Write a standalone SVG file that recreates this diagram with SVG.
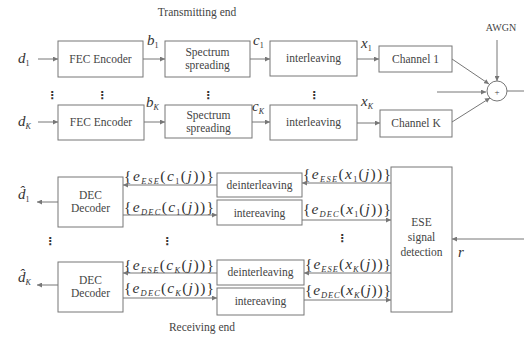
<svg xmlns="http://www.w3.org/2000/svg" width="524" height="338" viewBox="0 0 524 338">
<style>
.box{fill:#fff;stroke:#777;stroke-width:1}
.ln{fill:none;stroke:#777;stroke-width:1}
.arr{marker-end:url(#ah)}
.t{font-family:"Liberation Serif","Times New Roman",serif;font-size:11.5px;fill:#444;text-anchor:middle}
.v{font-family:"Liberation Serif","Times New Roman",serif;font-size:15px;font-style:italic;fill:#333}
.s{font-size:8px;font-style:normal}
.si{font-size:8px}
.m{font-family:"Liberation Serif","Times New Roman",serif;font-size:15.5px;fill:#333}
.ms{font-size:8.5px;font-style:italic}
.dots{font-family:"DejaVu Sans",sans-serif;font-size:11px;font-weight:bold;fill:#333;text-anchor:middle}
</style>
<defs>
<marker id="ah" viewBox="0 0 6 6" refX="6" refY="3" markerWidth="5" markerHeight="5" orient="auto" markerUnits="userSpaceOnUse">
<path d="M0,0 L6,3 L0,6 z" fill="#777"/>
</marker>
</defs>
<text x="197" y="16" class="t">Transmitting end</text>
<text x="202" y="331" class="t">Receiving end</text>
<g id="connectors">
<line class="ln arr" x1="38" y1="59" x2="58" y2="59"/>
<line class="ln arr" x1="143" y1="59" x2="165" y2="59"/>
<line class="ln arr" x1="250" y1="59" x2="270" y2="59"/>
<line class="ln arr" x1="357" y1="59" x2="379" y2="59"/>
<line class="ln arr" x1="452" y1="59" x2="489" y2="84"/>
<line class="ln arr" x1="497" y1="40" x2="497" y2="81"/>
<line class="ln arr" x1="437" y1="92" x2="486" y2="92"/>
<line class="ln" x1="507" y1="91" x2="524" y2="91"/>
<line class="ln arr" x1="38" y1="122" x2="58" y2="122"/>
<line class="ln arr" x1="144" y1="122" x2="165" y2="122"/>
<line class="ln arr" x1="252" y1="122" x2="270" y2="122"/>
<line class="ln arr" x1="357" y1="123" x2="380" y2="123"/>
<line class="ln arr" x1="452" y1="122" x2="490" y2="98"/>
<line class="ln arr" x1="58" y1="202" x2="37" y2="202"/>
<line class="ln arr" x1="217" y1="185" x2="123" y2="185"/>
<line class="ln arr" x1="123" y1="215" x2="217" y2="215"/>
<line class="ln arr" x1="391" y1="183" x2="302" y2="183"/>
<line class="ln arr" x1="302" y1="220" x2="391" y2="220"/>
<line class="ln arr" x1="58" y1="285" x2="37" y2="285"/>
<line class="ln arr" x1="217" y1="273" x2="123" y2="273"/>
<line class="ln arr" x1="123" y1="298" x2="217" y2="298"/>
<line class="ln arr" x1="391" y1="273" x2="304" y2="273"/>
<line class="ln arr" x1="304" y1="300" x2="391" y2="300"/>
<line class="ln arr" x1="524" y1="239" x2="452" y2="239"/>
</g>
<g id="fec1"><rect class="box" x="58" y="41" width="85" height="36"/><text class="t" x="100.5" y="63">FEC Encoder</text></g>
<g id="spread1"><rect class="box" x="165" y="41" width="85" height="36"/><text class="t" x="207.5" y="56">Spectrum</text><text class="t" x="207.5" y="69">spreading</text></g>
<g id="inter1"><rect class="box" x="270" y="41" width="87" height="35"/><text class="t" x="313.5" y="62">interleaving</text></g>
<g id="ch1"><rect class="box" x="379" y="46" width="73" height="26"/><text class="t" x="415.5" y="63">Channel 1</text></g>
<g id="fecK"><rect class="box" x="58" y="105" width="86" height="35"/><text class="t" x="101" y="126">FEC Encoder</text></g>
<g id="spreadK"><rect class="box" x="165" y="105" width="87" height="33"/><text class="t" x="208.5" y="119">Spectrum</text><text class="t" x="208.5" y="132">spreading</text></g>
<g id="interK"><rect class="box" x="270" y="105" width="87" height="35"/><text class="t" x="313.5" y="126">interleaving</text></g>
<g id="chK"><rect class="box" x="380" y="110" width="72" height="27"/><text class="t" x="416" y="127">Channel K</text></g>
<g id="adder"><circle class="box" cx="497" cy="91" r="10"/><text class="t" x="497" y="95" style="font-size:9px">+</text></g>
<text class="t" x="501" y="31" style="font-size:10px">AWGN</text>
<g id="dec1"><rect class="box" x="58" y="177" width="65" height="50"/><text class="t" x="90.5" y="199">DEC</text><text class="t" x="90.5" y="212">Decoder</text></g>
<g id="deint1"><rect class="box" x="217" y="173" width="85" height="24"/><text class="t" x="259.5" y="189">deinterleaving</text></g>
<g id="intl1"><rect class="box" x="217" y="200" width="85" height="25"/><text class="t" x="259.5" y="217">intereaving</text></g>
<g id="decK"><rect class="box" x="58" y="262" width="65" height="50"/><text class="t" x="90.5" y="284">DEC</text><text class="t" x="90.5" y="297">Decoder</text></g>
<g id="deintK"><rect class="box" x="217" y="260" width="87" height="25"/><text class="t" x="260.5" y="276">deinterleaving</text></g>
<g id="intlK"><rect class="box" x="217" y="288" width="87" height="27"/><text class="t" x="260.5" y="305">intereaving</text></g>
<g id="ese"><rect class="box" x="391" y="167" width="61" height="145"/><text class="t" x="421.5" y="226">ESE</text><text class="t" x="421.5" y="241">signal</text><text class="t" x="421.5" y="256">detection</text></g>
<text class="v" x="18" y="63">d<tspan class="s" dy="3">1</tspan></text>
<text class="v" x="18" y="126">d<tspan class="si" dy="3">K</tspan></text>
<text class="v" x="147" y="45">b<tspan class="s" dy="3">1</tspan></text>
<text class="v" x="146" y="107">b<tspan class="si" dy="3">K</tspan></text>
<text class="v" x="253" y="45">c<tspan class="s" dy="3">1</tspan></text>
<text class="v" x="252" y="111">c<tspan class="si" dy="3">K</tspan></text>
<text class="v" x="361" y="48">x<tspan class="s" dy="3">1</tspan></text>
<text class="v" x="361" y="106">x<tspan class="si" dy="3">K</tspan></text>
<text class="v" x="18" y="199">d̂<tspan class="s" dy="3">1</tspan></text>
<text class="v" x="18" y="282">d̂<tspan class="si" dy="3">K</tspan></text>
<text class="v" x="458" y="257">r</text>
<text class="m" x="124" y="181" textLength="90" lengthAdjust="spacing">{<tspan font-style="italic">e</tspan><tspan class="ms" dy="3">ESE</tspan><tspan dy="-3">(</tspan><tspan font-style="italic">c</tspan><tspan class="s" dy="3">1</tspan><tspan dy="-3">(</tspan><tspan font-style="italic">j</tspan>))}</text>
<text class="m" x="124" y="212" textLength="90" lengthAdjust="spacing">{<tspan font-style="italic">e</tspan><tspan class="ms" dy="3">DEC</tspan><tspan dy="-3">(</tspan><tspan font-style="italic">c</tspan><tspan class="s" dy="3">1</tspan><tspan dy="-3">(</tspan><tspan font-style="italic">j</tspan>))}</text>
<text class="m" x="303" y="179" textLength="88" lengthAdjust="spacing">{<tspan font-style="italic">e</tspan><tspan class="ms" dy="3">ESE</tspan><tspan dy="-3">(</tspan><tspan font-style="italic">x</tspan><tspan class="s" dy="3">1</tspan><tspan dy="-3">(</tspan><tspan font-style="italic">j</tspan>))}</text>
<text class="m" x="303" y="214" textLength="88" lengthAdjust="spacing">{<tspan font-style="italic">e</tspan><tspan class="ms" dy="3">DEC</tspan><tspan dy="-3">(</tspan><tspan font-style="italic">x</tspan><tspan class="s" dy="3">1</tspan><tspan dy="-3">(</tspan><tspan font-style="italic">j</tspan>))}</text>
<text class="m" x="124" y="270" textLength="90" lengthAdjust="spacing">{<tspan font-style="italic">e</tspan><tspan class="ms" dy="3">ESE</tspan><tspan dy="-3">(</tspan><tspan font-style="italic">c</tspan><tspan class="ms" dy="3">K</tspan><tspan dy="-3">(</tspan><tspan font-style="italic">j</tspan>))}</text>
<text class="m" x="124" y="293" textLength="90" lengthAdjust="spacing">{<tspan font-style="italic">e</tspan><tspan class="ms" dy="3">DEC</tspan><tspan dy="-3">(</tspan><tspan font-style="italic">c</tspan><tspan class="ms" dy="3">K</tspan><tspan dy="-3">(</tspan><tspan font-style="italic">j</tspan>))}</text>
<text class="m" x="305" y="269" textLength="86" lengthAdjust="spacing">{<tspan font-style="italic">e</tspan><tspan class="ms" dy="3">ESE</tspan><tspan dy="-3">(</tspan><tspan font-style="italic">x</tspan><tspan class="ms" dy="3">K</tspan><tspan dy="-3">(</tspan><tspan font-style="italic">j</tspan>))}</text>
<text class="m" x="305" y="295" textLength="86" lengthAdjust="spacing">{<tspan font-style="italic">e</tspan><tspan class="ms" dy="3">DEC</tspan><tspan dy="-3">(</tspan><tspan font-style="italic">x</tspan><tspan class="ms" dy="3">K</tspan><tspan dy="-3">(</tspan><tspan font-style="italic">j</tspan>))}</text>
<text class="dots" x="52" y="99">⋮</text>
<text class="dots" x="102" y="99">⋮</text>
<text class="dots" x="208" y="99">⋮</text>
<text class="dots" x="314" y="99">⋮</text>
<text class="dots" x="50" y="245">⋮</text>
<text class="dots" x="167" y="245">⋮</text>
<text class="dots" x="342" y="242">⋮</text>
</svg>
